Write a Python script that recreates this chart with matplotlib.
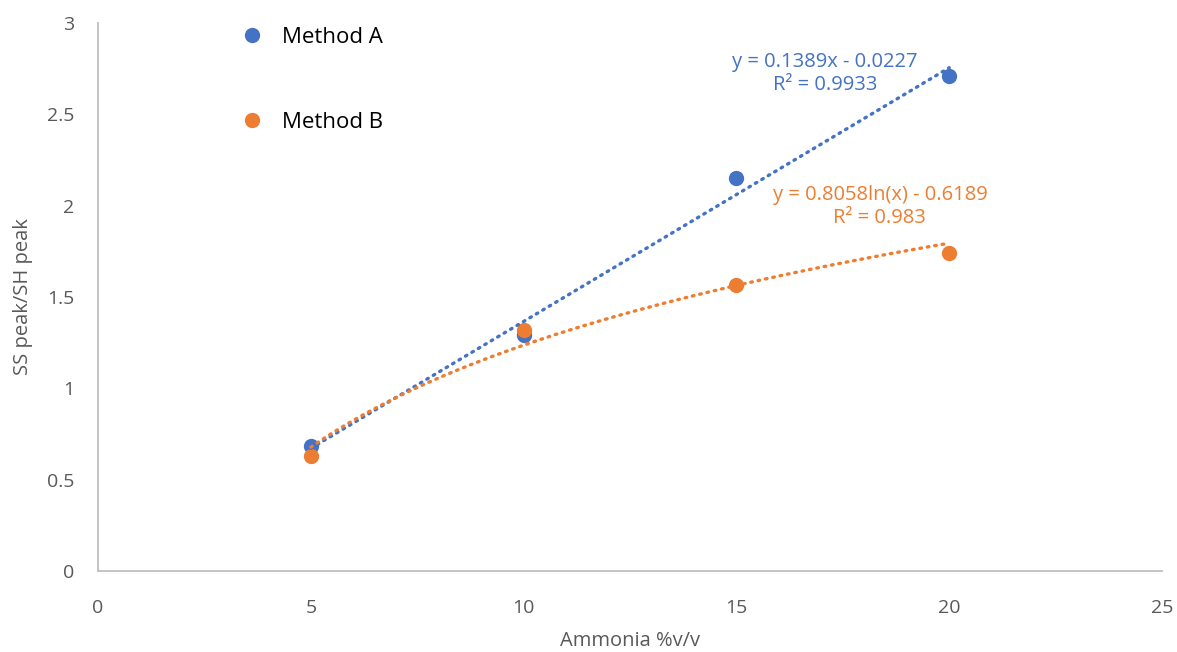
import numpy as np
import matplotlib.pyplot as plt

# ammonia concentration, %v/v
ammonia = [5, 10, 15, 20]
# SS peak / SH peak ratio for the two methods
method_a = [0.684, 1.29, 2.15, 2.71]
method_b = [0.629, 1.319, 1.565, 1.74]

# trendline coefficients
lin_slope, lin_icpt, lin_r2 = 0.1389, -0.0227, 0.9933
log_coef, log_icpt, log_r2 = 0.8058, -0.6189, 0.983

blue = '#4472C4'
orange = '#ED7D31'
grey = '#595959'

plt.rcParams['font.family'] = ['Open Sans', 'DejaVu Sans']

fig = plt.figure(figsize=(11.77, 6.52), dpi=100)
ax = fig.add_axes([0.0833, 0.1242, 0.904, 0.8405])

ax.plot(ammonia, method_a, 'o', color=blue, markersize=10, label='Method A', zorder=3)
ax.plot(ammonia, method_b, 'o', color=orange, markersize=10, label='Method B', zorder=4)

xs = np.linspace(ammonia[0], ammonia[-1], 200)
ax.plot(xs, lin_slope * xs + lin_icpt, color=blue, lw=2.4, linestyle=(0, (0.5, 1.75)),
        dash_capstyle='round', zorder=5)
ax.plot(xs, log_coef * np.log(xs) + log_icpt, color=orange, lw=2.4, linestyle=(0, (0.5, 1.75)),
        dash_capstyle='round', zorder=6)

ax.text(17.08, 2.726, 'y = %.4fx - %.4f\nR² = %.4f' % (lin_slope, -lin_icpt, lin_r2),
        color=blue, fontsize=14.5, ha='center', va='center', multialignment='center',
        linespacing=1.2)
ax.text(18.37, 1.998, 'y = %.4fln(x) - %.4f\nR² = %.3f' % (log_coef, -log_icpt, log_r2),
        color=orange, fontsize=14.5, ha='center', va='center', multialignment='center',
        linespacing=1.2)

ax.set_xlim(0, 25)
ax.set_ylim(0, 3)
ax.set_xticks([0, 5, 10, 15, 20, 25])
ax.set_yticks([0, 0.5, 1, 1.5, 2, 2.5, 3])
ax.set_yticklabels(['0', '0.5', '1', '1.5', '2', '2.5', '3'])
ax.tick_params(length=0, labelsize=14, colors=grey)
ax.tick_params(axis='x', pad=20)
ax.tick_params(axis='y', pad=17)

for s in ['top', 'right']:
    ax.spines[s].set_visible(False)
for s in ['left', 'bottom']:
    ax.spines[s].set_color('#BFBFBF')
    ax.spines[s].set_linewidth(1.3)

ax.set_xlabel('Ammonia %v/v', fontsize=14.5, color=grey, labelpad=10)
ax.set_ylabel('SS peak/SH peak', fontsize=14.5, color=grey, labelpad=10)

leg = ax.legend(loc='upper left', bbox_to_anchor=(0.113, 1.03), frameon=False,
                fontsize=16, labelspacing=2.9, handletextpad=0.75, handlelength=1.2)

fig.savefig('out.png', dpi=100)
